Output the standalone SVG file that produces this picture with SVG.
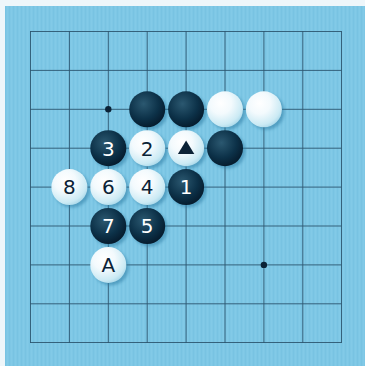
<svg xmlns="http://www.w3.org/2000/svg" width="365" height="366" viewBox="0 0 365 366">
<defs>
<radialGradient id="gb" cx="0.4" cy="0.35" r="0.7">
<stop offset="0" stop-color="#2b5870"/>
<stop offset="0.6" stop-color="#0c3148"/>
<stop offset="1" stop-color="#05192a"/>
</radialGradient>
<radialGradient id="gw" cx="0.38" cy="0.33" r="0.75">
<stop offset="0" stop-color="#ffffff"/>
<stop offset="0.4" stop-color="#f3fafd"/>
<stop offset="0.8" stop-color="#cbeaf4"/>
<stop offset="1" stop-color="#9ed2e6"/>
</radialGradient>
<filter id="blur" x="-30%" y="-30%" width="160%" height="160%"><feGaussianBlur stdDeviation="1.5"/></filter>
<pattern id="grain" width="4" height="10" patternUnits="userSpaceOnUse">
<rect width="4" height="10" fill="#7ec7e5"/>
<rect x="1" width="1" height="10" fill="#74bfdf" opacity="0.6"/>
<rect x="3" width="1" height="10" fill="#86cbe8" opacity="0.6"/>
</pattern>
</defs>
<style>
.ln{stroke:#2c5670;stroke-width:1;fill:none;opacity:0.9}
.sh{fill:#2f7ea5;opacity:0.55;filter:url(#blur)}
.b{fill:url(#gb)}
.w{fill:url(#gw)}
.tb{fill:#ffffff;font-family:"DejaVu Sans",sans-serif;font-size:20px;text-anchor:middle}
.tw{fill:#0b2236;font-family:"DejaVu Sans",sans-serif;font-size:20px;text-anchor:middle}
</style>
<rect x="0" y="0" width="365" height="366" fill="#eef6fa"/>
<rect x="5" y="6" width="360" height="360" fill="url(#grain)"/>
<g id="grid">
<path class="ln" d="M30,31.5H341.5M30,70.4H341.5M30,109.3H341.5M30,148.2H341.5M30,187.1H341.5M30,226H341.5M30,264.9H341.5M30,303.8H341.5M30,342.5H341.5"/>
<path class="ln" d="M30.5,31V343M69.4,31V343M108.3,31V343M147.2,31V343M186.1,31V343M225,31V343M263.9,31V343M302.8,31V343M341.5,31V343"/>
<circle cx="108.3" cy="109.3" r="3.2" fill="#0b2236"/>
<circle cx="263.9" cy="264.9" r="3.2" fill="#0b2236"/>
</g>
<g id="connectors"></g>
<g id="s-b-c3r2"><circle class="sh" cx="149.7" cy="111.8" r="18"/><circle class="b" cx="147.2" cy="109.3" r="18"/></g>
<g id="s-b-c4r2"><circle class="sh" cx="188.6" cy="111.8" r="18"/><circle class="b" cx="186.1" cy="109.3" r="18"/></g>
<g id="s-w-c5r2"><circle class="sh" cx="227.5" cy="111.8" r="18"/><circle class="w" cx="225" cy="109.3" r="18"/></g>
<g id="s-w-c6r2"><circle class="sh" cx="266.4" cy="111.8" r="18"/><circle class="w" cx="263.9" cy="109.3" r="18"/></g>
<g id="s-b-3"><circle class="sh" cx="110.8" cy="150.7" r="18"/><circle class="b" cx="108.3" cy="148.2" r="18"/><text class="tb" x="108.3" y="155.5">3</text></g>
<g id="s-w-2"><circle class="sh" cx="149.7" cy="150.7" r="18"/><circle class="w" cx="147.2" cy="148.2" r="18"/><text class="tw" x="147.2" y="155.5">2</text></g>
<g id="s-w-tri"><circle class="sh" cx="188.6" cy="150.7" r="18"/><circle class="w" cx="186.1" cy="148.2" r="18"/><polygon points="186.1,140.5 194.3,154 177.9,154" fill="#0b2236"/></g>
<g id="s-b-c5r3"><circle class="sh" cx="227.5" cy="150.7" r="18"/><circle class="b" cx="225" cy="148.2" r="18"/></g>
<g id="s-w-8"><circle class="sh" cx="71.9" cy="189.6" r="18"/><circle class="w" cx="69.4" cy="187.1" r="18"/><text class="tw" x="69.4" y="194.4">8</text></g>
<g id="s-w-6"><circle class="sh" cx="110.8" cy="189.6" r="18"/><circle class="w" cx="108.3" cy="187.1" r="18"/><text class="tw" x="108.3" y="194.4">6</text></g>
<g id="s-w-4"><circle class="sh" cx="149.7" cy="189.6" r="18"/><circle class="w" cx="147.2" cy="187.1" r="18"/><text class="tw" x="147.2" y="194.4">4</text></g>
<g id="s-b-1"><circle class="sh" cx="188.6" cy="189.6" r="18"/><circle class="b" cx="186.1" cy="187.1" r="18"/><text class="tb" x="186.1" y="194.4">1</text></g>
<g id="s-b-7"><circle class="sh" cx="110.8" cy="228.5" r="18"/><circle class="b" cx="108.3" cy="226" r="18"/><text class="tb" x="108.3" y="233.3">7</text></g>
<g id="s-b-5"><circle class="sh" cx="149.7" cy="228.5" r="18"/><circle class="b" cx="147.2" cy="226" r="18"/><text class="tb" x="147.2" y="233.3">5</text></g>
<g id="s-w-A"><circle class="sh" cx="110.8" cy="267.4" r="18"/><circle class="w" cx="108.3" cy="264.9" r="18"/><text class="tw" x="108.3" y="272.2">A</text></g>
</svg>
